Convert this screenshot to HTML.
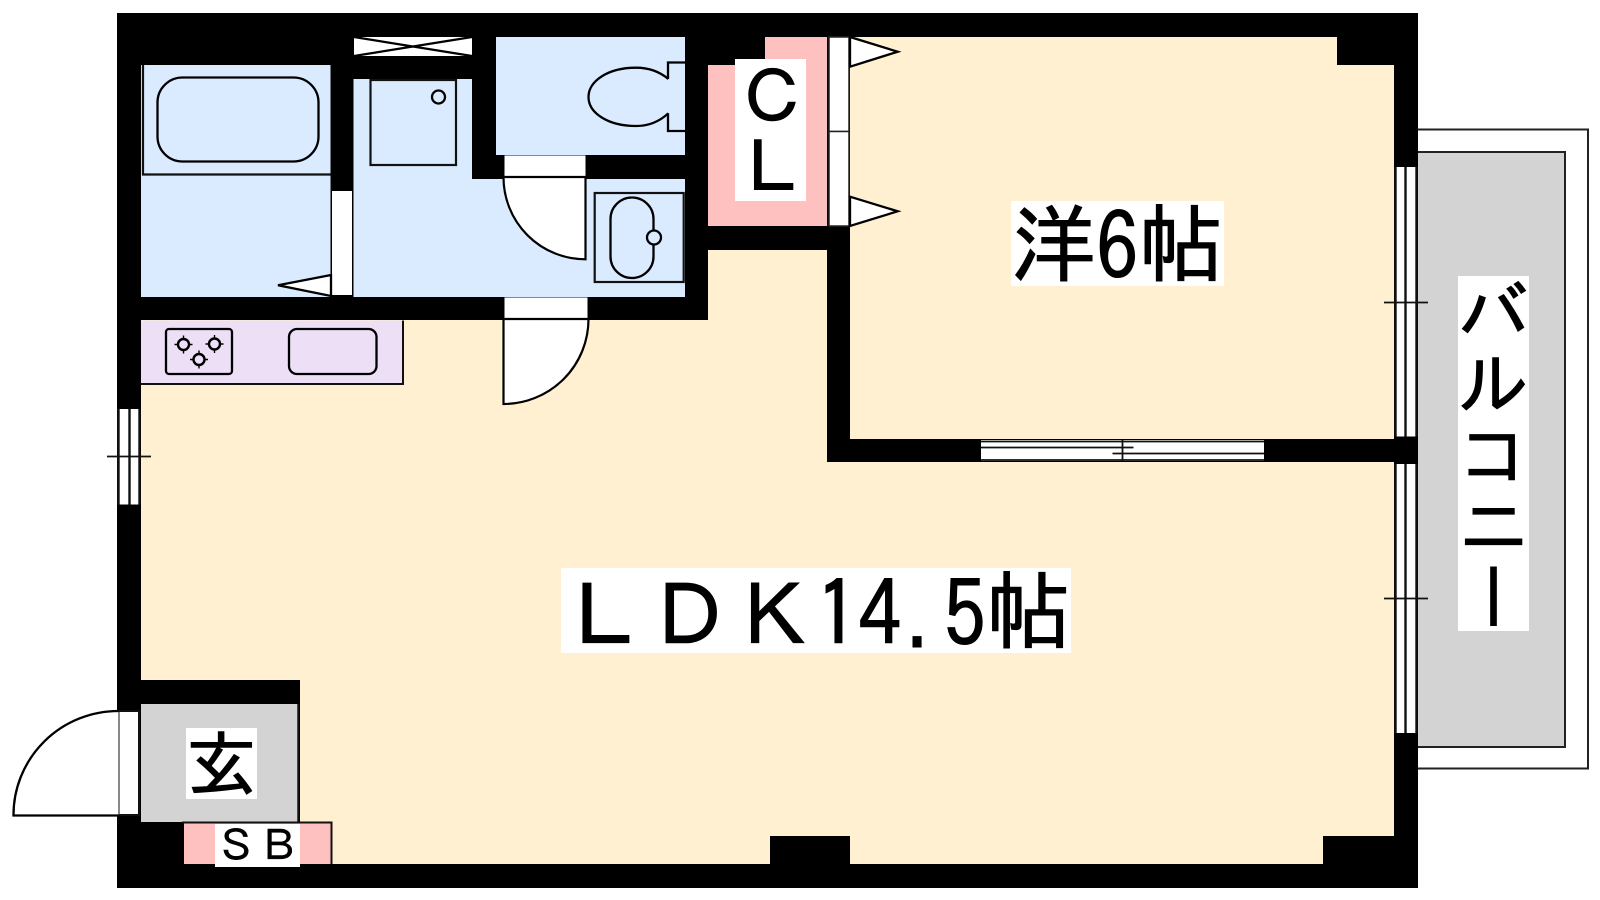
<!DOCTYPE html>
<html lang="ja"><head><meta charset="utf-8"><title>間取り図</title>
<style>
html,body{margin:0;padding:0;background:#fff;width:1600px;height:900px;overflow:hidden}
svg{display:block;position:absolute;left:0;top:0}
.l{position:absolute;background:#fff;color:#000;font-family:"IPAGothic","Noto Sans CJK JP",sans-serif;white-space:nowrap;line-height:1;-webkit-text-stroke:1px #000}
.d{display:inline-block;transform:translateY(5px) scaleY(1.08);transform-origin:50% 80%}
.m{display:inline-block;transform:translate(1px,5px)}
.p{display:inline-block;transform:translate(1px,5px) scaleX(.8);-webkit-text-stroke:0}
</style></head><body>
<svg width="1600" height="900" viewBox="0 0 1600 900" fill="none" stroke-linejoin="miter">
<!-- balcony -->
<rect x="1410" y="129.5" width="178" height="639" fill="#fff" stroke="#222" stroke-width="2"/>
<rect x="1410" y="152" width="155" height="595" fill="#d3d3d3" stroke="#222" stroke-width="2"/>
<!-- walls -->
<rect x="117" y="13" width="1301" height="875" fill="#000"/>
<!-- cream LDK / room -->
<path d="M850 37H1337V65H1394V439H850Z" fill="#fef0d0"/>
<path d="M708 250H827V462H1394V836H1323V864H850V836H770V864H332V822H300V680H141V320H708Z" fill="#fef0d0"/>
<!-- blue rooms -->
<rect x="141" y="65" width="189.500" height="232" fill="#dbebff"/>
<path d="M353.500 79H472V179H585V155H496V37H685V297H353.500Z" fill="#dbebff"/>
<path d="M585 179H685V297H585Z" fill="#dbebff"/>
<rect x="585" y="155" width="100" height="24" fill="#000"/>
<!-- pink CL -->
<path d="M708 65H765V37H827V226H708Z" fill="#ffc0c0"/>
<!-- genkan -->
<rect x="141" y="704" width="157" height="118" fill="#d3d3d3"/>
<path d="M298.300 704V822" stroke="#111" stroke-width="2"/>
<rect x="184" y="823" width="147" height="41" fill="#ffc0c0"/>
<path d="M182 822.500H331.500V864" stroke="#111" stroke-width="2"/>
<!-- kitchen -->
<rect x="141" y="320.500" width="262" height="63.500" fill="#eddff6"/>
<path d="M141 384H403V320.500" stroke="#111" stroke-width="2"/>
<rect x="166" y="329" width="66" height="45" rx="3" stroke="#000" stroke-width="2.300"/>
<rect x="289" y="329" width="87.500" height="45" rx="8" stroke="#000" stroke-width="2.300"/>
<g stroke="#000" stroke-width="2.400">
<circle cx="183.500" cy="344.500" r="5.500"/><path d="M183.500 335.500v18M174.500 344.500h18" stroke-width="1.400" stroke-dasharray="3 12"/>
<circle cx="214.500" cy="344" r="5.500"/><path d="M214.500 335v18M205.500 344h18" stroke-width="1.400" stroke-dasharray="3 12"/>
<circle cx="199" cy="359.500" r="5.500"/><path d="M199 350.500v18M190 359.500h18" stroke-width="1.400" stroke-dasharray="3 12"/>
</g>
<!-- bath -->
<path d="M143 65V174.500H330.500" stroke="#111" stroke-width="2.200"/>
<rect x="157.500" y="77.500" width="161" height="84" rx="25" stroke="#000" stroke-width="2.300"/>
<rect x="332" y="191" width="20" height="104" fill="#fff"/>
<path d="M331 275L278 285.300L331 296Z" fill="#fff" stroke="#000" stroke-width="2.300"/>
<!-- window X -->
<rect x="354" y="37" width="118" height="19" fill="#fff"/>
<path d="M354 37L472 56M354 56L472 37" stroke="#000" stroke-width="2.200"/>
<!-- washing machine -->
<rect x="370.500" y="80" width="85.500" height="85" stroke="#111" stroke-width="2.200"/>
<circle cx="438.500" cy="97" r="6.500" stroke="#000" stroke-width="2.300"/>
<!-- toilet -->
<path d="M685 62.500H668V79M685 131H668V113.300" stroke="#000" stroke-width="2.300"/>
<path d="M668.300 79C660 72 650 67.700 636 67.700C608 67.700 588.500 81 588.500 97C588.500 113 608 126 636 126C650 126 660 121 668.300 113.300" stroke="#000" stroke-width="2.300"/>
<!-- washroom door -->
<rect x="504.500" y="156" width="81" height="20" fill="#fff"/>
<path d="M504.500 155.500H585.500" stroke="#888" stroke-width="1"/>
<path d="M503.500 177H585.500V259.300A82 82 0 0 1 503.500 177Z" fill="#fff" stroke="#000" stroke-width="2.200"/>
<!-- sink -->
<rect x="594.700" y="193" width="89" height="89" stroke="#111" stroke-width="2.200"/>
<rect x="610.500" y="197.500" width="43" height="80.500" rx="21.500" stroke="#000" stroke-width="2.300"/>
<circle cx="654" cy="237.500" r="7" fill="#dbebff" stroke="#000" stroke-width="2.300"/>
<!-- LDK door -->
<rect x="504.500" y="298" width="83" height="20" fill="#fff"/>
<path d="M504.500 297.500H587.500" stroke="#888" stroke-width="1"/>
<path d="M503.500 319H588.500A85 85 0 0 1 503.500 404Z" fill="#fff" stroke="#000" stroke-width="2.200"/>
<!-- CL doors -->
<rect x="829" y="37" width="20" height="94.500" fill="#fff" stroke="#222" stroke-width="1.500"/>
<rect x="829" y="131.500" width="20" height="94.500" fill="#fff" stroke="#222" stroke-width="1.500"/>
<path d="M850 37L897.700 51.700L850 66.700Z" fill="#fff" stroke="#000" stroke-width="2.300"/>
<path d="M850 196.700L897.700 211.300L850 226Z" fill="#fff" stroke="#000" stroke-width="2.300"/>
<!-- sliding door room -->
<rect x="981" y="440" width="283" height="21" fill="#fff"/>
<path d="M981 441.500H1264M981 447.500H1133.500M1112.500 453.500H1264M981 460H1264M1122.500 440V461" stroke="#111" stroke-width="1.800"/>
<!-- right windows -->
<rect x="1395" y="167" width="22" height="269.500" fill="#fff"/>
<rect x="1395" y="464" width="22" height="269" fill="#fff"/>
<path d="M1395.500 167V436.500M1405.500 167V436.500M1416.500 167V436.500M1395.500 464V733M1405.500 464V733M1416.500 464V733" stroke="#111" stroke-width="2.400"/>
<path d="M1384 302.500H1428M1384 598.500H1428" stroke="#111" stroke-width="1.800"/>
<!-- left window -->
<rect x="118" y="409" width="22" height="95.500" fill="#fff"/>
<path d="M118.500 409V504.500M129.500 409V504.500M139.500 409V504.500" stroke="#111" stroke-width="2.400"/>
<path d="M107 456.500H151" stroke="#111" stroke-width="1.800"/>
<!-- entrance door -->
<rect x="118.500" y="711" width="20.500" height="104" fill="#fff" stroke="#111" stroke-width="2"/>
<path d="M118.500 711A105 104 0 0 0 13.500 815.500H118.500" fill="#fff" stroke="#000" stroke-width="2.300"/>
</svg>
<div class="l" style="left:1011px;top:201px;font-size:85px;width:213px;height:85px">洋<span class="d">6</span>帖</div>
<div class="l" style="left:561px;top:568px;font-size:85px;width:510px;height:85px"><span class="m">ＬＤＫ</span><span class="d">14</span><span class="p">.</span><span class="d">5</span>帖</div>
<div class="l" style="left:735px;top:59px;font-size:71px;width:71px;height:142px;white-space:normal;overflow:hidden"><span style="display:inline-block;transform:translate(2px,2px)">Ｃ</span><br><span style="display:inline-block;transform:translate(2px,1px)">Ｌ</span></div>
<div class="l" style="left:186px;top:728px;font-size:71px;width:71px;height:71px">玄</div>
<div class="l" style="left:215px;top:824px;font-size:42.500px;width:85px;height:43px;-webkit-text-stroke:.5px #000"><span style="display:inline-block;transform:translateY(1px)">ＳＢ</span></div>
<div class="l" style="left:1458px;top:276px;font-size:71px;width:71px;height:355px;writing-mode:vertical-rl;text-orientation:upright">バルコニー</div>
</body></html>
